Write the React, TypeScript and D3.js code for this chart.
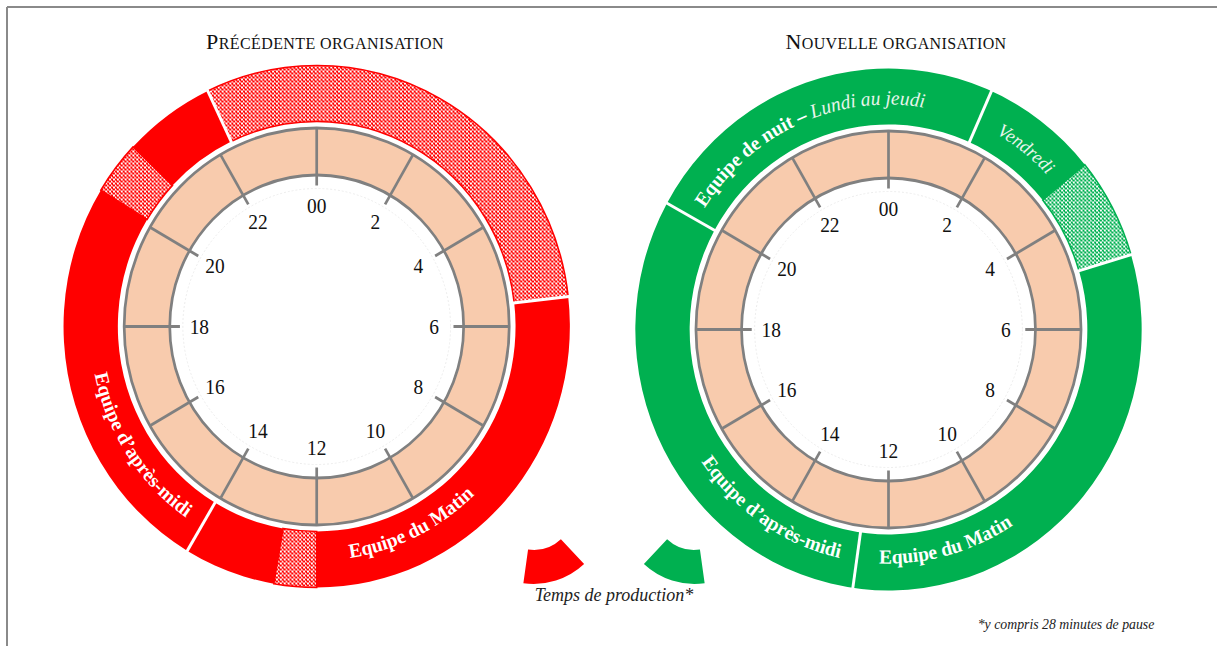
import React from "react";
import * as d3 from "d3";

// ---------- data ----------
const HOUR_TICKS = [0, 2, 4, 6, 8, 10, 12, 14, 16, 18, 20, 22];
const HOUR_LABELS = ["00", "2", "4", "6", "8", "10", "12", "14", "16", "18", "20", "22"];

const TITLES = ["Précédente organisation", "Nouvelle organisation"];

// previous organisation: band segments in hours (clockwise from 00)
const PREV_SEGMENTS = [
  { from: 22.3, to: 29.56, type: "pause" },
  { from: 5.56, to: 12.0, type: "prod" },
  { from: 12.0, to: 12.65, type: "pause" },
  { from: 12.65, to: 20.1, type: "prod" },
  { from: 20.1, to: 20.9, type: "pause" },
  { from: 20.9, to: 22.3, type: "prod" },
];
const PREV_SEPARATORS = [5.56, 14.05, 22.3];
const PREV_LABELS = [
  { parts: [{ t: "Equipe du Matin", italic: false, bold: true }], mid: 10.25, dir: "ccw", size: 20 },
  { parts: [{ t: "Equipe d’après-midi", italic: false, bold: true }], mid: 15.78, dir: "ccw", size: 20 },
];

// new organisation
const NEW_SEGMENTS = [
  { from: 19.93, to: 27.39, type: "prod" },
  { from: 3.39, to: 4.89, type: "pause" },
  { from: 4.89, to: 19.93, type: "prod" },
];
const NEW_SEPARATORS = [1.6, 4.89, 12.54, 19.93];
const NEW_LABELS = [
  { parts: [{ t: "Equipe du Matin", italic: false, bold: true }], mid: 10.97, dir: "ccw", size: 20 },
  { parts: [{ t: "Equipe d’après-midi", italic: false, bold: true }], mid: 14.27, dir: "ccw", size: 20 },
  {
    parts: [
      { t: "Equipe de nuit – ", italic: false, bold: true },
      { t: "Lundi au jeudi", italic: true, bold: false },
    ],
    mid: 22.4,
    dir: "cw",
    size: 20,
  },
  { parts: [{ t: "Vendredi", italic: true, bold: false }], mid: 2.54, dir: "cw", size: 19 },
];

const LEGEND_TEXT = "Temps de production*";
const FOOTNOTE = "*y compris 28 minutes de pause";

// ---------- style ----------
const RED = "#ff0000";
const GREEN = "#00b050";
const PEACH = "#f8cbad";
const GRAY = "#808080";
const FONT = "'Liberation Serif', 'Times New Roman', Times, serif";

const R_IN = 151.5;
const R_OUT = 198.5;
const R_TICK_IN = 141;
const R_LABEL = 121;
const B_IN = 205;
const B_OUT = 261;
const SX = 0.97;

const hourAngle = d3.scaleLinear().domain([0, 24]).range([0, 2 * Math.PI]);

function pt(r: number, h: number): [number, number] {
  const a = hourAngle(h);
  return [r * Math.sin(a), -r * Math.cos(a)];
}

function arcPath(r: number, mid: number, dir: string): string {
  const span = 4.5;
  const h0 = dir === "cw" ? mid - span : mid + span;
  const h1 = dir === "cw" ? mid + span : mid - span;
  const [x0, y0] = pt(r, h0);
  const [x1, y1] = pt(r, h1);
  return `M${x0},${y0} A${r},${r} 0 0 ${dir === "cw" ? 1 : 0} ${x1},${y1}`;
}

const bandArc = d3.arc<any>().innerRadius(B_IN).outerRadius(B_OUT);
const peachArc = d3.arc<any>().innerRadius(R_IN).outerRadius(R_OUT).startAngle(0).endAngle(2 * Math.PI);

function SmallCaps({ text, x, y }: { text: string; x: number; y: number }) {
  const words = text.split(" ");
  return (
    <text x={x} y={y} textAnchor="middle" fontFamily={FONT} fill="#111" letterSpacing={0.4}>
      {words.map((w, i) => (
        <React.Fragment key={i}>
          <tspan fontSize={i === 0 ? 22 : 16}>{i === 0 ? w[0].toUpperCase() : (" " + w[0].toUpperCase())}</tspan>
          <tspan fontSize={16}>{w.slice(1).toUpperCase()}</tspan>
        </React.Fragment>
      ))}
    </text>
  );
}

function Clock({ id, cx, cy, color, segments, separators, labels }: any) {
  return (
    <g transform={`translate(${cx},${cy}) scale(${SX},1)`}>
      {segments.map((s: any, i: number) => (
        <path
          key={i}
          d={bandArc({ startAngle: hourAngle(s.from), endAngle: hourAngle(s.to) }) || ""}
          fill={s.type === "pause" ? `url(#pat-${id})` : color}
          stroke={s.type === "pause" ? color : "none"}
          strokeWidth={1.6}
        />
      ))}
      {separators.map((h: number, i: number) => {
        const [x0, y0] = pt(B_IN - 3, h);
        const [x1, y1] = pt(B_OUT + 3, h);
        return <line key={i} x1={x0} y1={y0} x2={x1} y2={y1} stroke="#fff" strokeWidth={3} />;
      })}
      {labels.map((l: any, i: number) => {
        const r = l.dir === "cw" ? 225 : 234;
        const pid = `lp-${id}-${i}`;
        return (
          <g key={i}>
            <path id={pid} d={arcPath(r, l.mid, l.dir)} fill="none" />
            <text fill="#fff" fontFamily={FONT} fontSize={l.size}>
              <textPath href={`#${pid}`} startOffset="50%" textAnchor="middle">
                {l.parts.map((p: any, j: number) => (
                  <tspan
                    key={j}
                    fontWeight={p.bold ? "bold" : "normal"}
                    fontStyle={p.italic ? "italic" : "normal"}
                    fill={p.italic ? "#e8f5ec" : "#fff"}
                  >
                    {p.t}
                  </tspan>
                ))}
              </textPath>
            </text>
          </g>
        );
      })}
      <path d={peachArc({}) || ""} fill={PEACH} />
      <circle r={R_OUT} fill="none" stroke={GRAY} strokeWidth={2.8} />
      <circle r={R_IN} fill="none" stroke={GRAY} strokeWidth={2.8} />
      <circle r={138} fill="none" stroke="#ececec" strokeWidth={1} strokeDasharray="2 2" />
      {HOUR_TICKS.map((h, i) => {
        const [x0, y0] = pt(R_OUT, h);
        const [x1, y1] = pt(R_TICK_IN, h);
        return <line key={i} x1={x0} y1={y0} x2={x1} y2={y1} stroke={GRAY} strokeWidth={2.8} />;
      })}
      {HOUR_TICKS.map((h, i) => {
        const [x, y] = pt(R_LABEL, h);
        return (
          <text
            key={i}
            x={x}
            y={y}
            textAnchor="middle"
            dominantBaseline="central"
            fontFamily={FONT}
            fontSize={20}
            fill="#111"
          >
            {HOUR_LABELS[i]}
          </text>
        );
      })}
    </g>
  );
}

const legendArc = d3.arc<any>().innerRadius(40).outerRadius(74);

export default function App() {
  return (
    <svg
      width={1217}
      height={646}
      style={{ position: "absolute", left: 0, top: 0, background: "#fff" }}
    >
      <defs>
        {[
          ["red", RED],
          ["green", GREEN],
        ].map(([id, c]) => (
          <pattern key={id} id={`pat-${id}`} width={4} height={4} patternUnits="userSpaceOnUse">
            <rect width={4} height={4} fill="#fff" />
            <rect x={0} y={0} width={2} height={2} fill={c} />
            <rect x={2} y={2} width={2} height={2} fill={c} />
            <rect x={1} y={2} width={1} height={1} fill={c} />
          </pattern>
        ))}
      </defs>
      <rect width={1217} height={646} fill="#fff" />
      <line x1={7} y1={7} x2={1217} y2={7} stroke="#8a8a8a" strokeWidth={2} />
      <line x1={7} y1={7} x2={7} y2={646} stroke="#8a8a8a" strokeWidth={2} />

      <SmallCaps text={TITLES[0]} x={325} y={49} />
      <SmallCaps text={TITLES[1]} x={896} y={49} />

      <Clock
        id="red"
        cx={316.7}
        cy={326.5}
        color={RED}
        segments={PREV_SEGMENTS}
        separators={PREV_SEPARATORS}
        labels={PREV_LABELS}
      />
      <Clock
        id="green"
        cx={888.5}
        cy={329.5}
        color={GREEN}
        segments={NEW_SEGMENTS}
        separators={NEW_SEPARATORS}
        labels={NEW_LABELS}
      />

      <g transform="translate(533.6,510)">
        <path d={legendArc({ startAngle: hourAngle(9.13), endAngle: hourAngle(12.53) }) || ""} fill={RED} />
      </g>
      <g transform="translate(694.4,510)">
        <path d={legendArc({ startAngle: hourAngle(11.47), endAngle: hourAngle(14.87) }) || ""} fill={GREEN} />
      </g>
      <text x={614} y={601} textAnchor="middle" fontFamily={FONT} fontStyle="italic" fontSize={18} fill="#222">
        {LEGEND_TEXT}
      </text>
      <text x={1066} y={629} textAnchor="middle" fontFamily={FONT} fontStyle="italic" fontSize={13.8} fill="#222">
        {FOOTNOTE}
      </text>
    </svg>
  );
}
